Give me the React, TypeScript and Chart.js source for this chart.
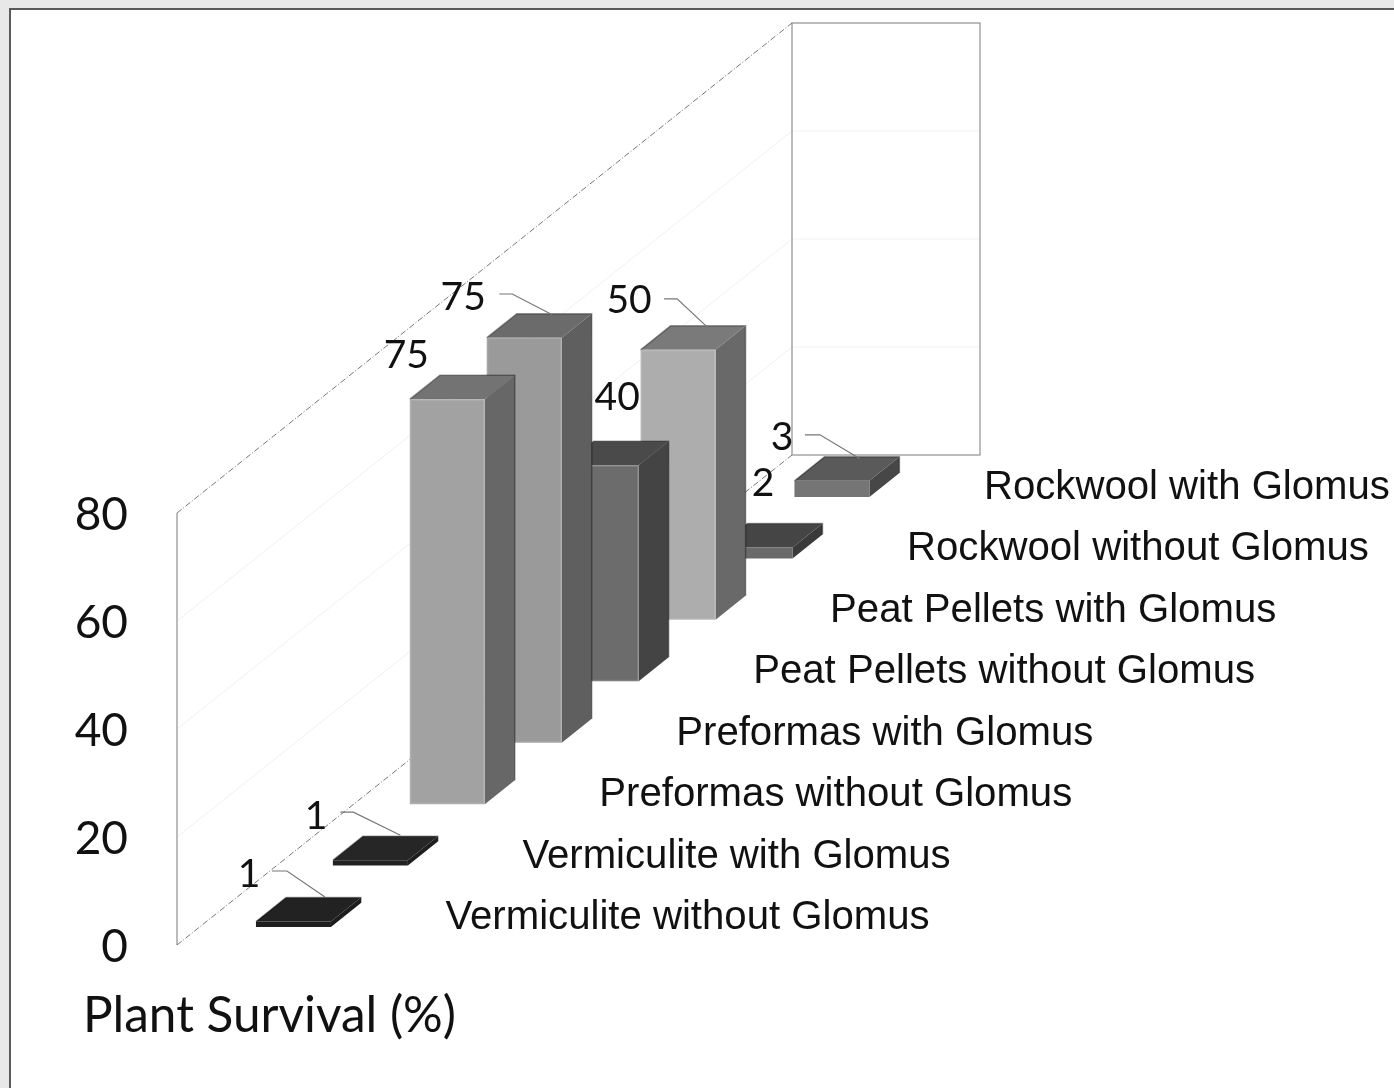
import React, { useEffect, useRef } from "react";
import { Chart, registerables } from "chart.js";

Chart.register(...registerables);

const categories = [
  "Vermiculite without Glomus",
  "Vermiculite with Glomus",
  "Preformas without Glomus",
  "Preformas with Glomus",
  "Peat Pellets without Glomus",
  "Peat Pellets with Glomus",
  "Rockwool without Glomus",
  "Rockwool with Glomus",
];
const survival = [1, 1, 75, 75, 40, 50, 2, 3];
const frontColors = ["#1f1f1f", "#222222", "#a2a2a2", "#9a9a9a", "#6c6c6c", "#adadad", "#6a6a6a", "#757575"];
const topColors = ["#222222", "#262626", "#737373", "#6b6b6b", "#4a4a4a", "#7a7a7a", "#454545", "#5a5a5a"];
const sideColors = ["#1c1c1c", "#1e1e1e", "#676767", "#5f5f5f", "#444444", "#696969", "#3a3a3a", "#474747"];

// Layout of the oblique projection (pixels)
const DEPTH_X = 30;
const DEPTH_Y = -24;
const STEP_Y = 61.43;
const FLOOR_LIFT = 18;
const WALL_LEFT = 177;
const WALL_DX = 615;
const WALL_DY = -490;
const WALL_BACK_W = 188;

// Label placement relative to the bar's front-top centre
const labelOffsets = [
  [-44.5, -47.6], [-54.4, -44.2], [-41, -44], [-61, -40.7],
  [16, -68], [-49, -49], [8, -64.6], [-50, -43.8],
];
const leaderOffsets: (number[][] | null)[] = [
  [[-21.5, -50.6], [-6.5, -50.6], [31.5, -24.6]],
  [[-30, -48], [-17, -48], [30, -25]],
  null,
  [[-25, -43.7], [-12, -43.7], [28, -23]],
  null,
  [[-14, -51], [-1, -51], [29, -23]],
  null,
  [[-27, -46], [-12, -46], [28, -22]],
];

function poly(ctx: CanvasRenderingContext2D, pts: number[][], fill: string) {
  ctx.beginPath();
  pts.forEach((p, i) => (i ? ctx.lineTo(p[0], p[1]) : ctx.moveTo(p[0], p[1])));
  ctx.closePath();
  ctx.fillStyle = fill;
  ctx.fill();
}

const plot3d = {
  id: "plot3d",
  beforeDraw(chart: any) {
    const { ctx, width, height, scales } = chart;
    ctx.save();
    ctx.fillStyle = "#e8e8e8";
    ctx.fillRect(0, 0, width, height);
    ctx.fillStyle = "#ffffff";
    ctx.fillRect(10, 9, width - 10, height - 9);
    ctx.fillStyle = "#5a5a5a";
    ctx.fillRect(9, 8, width - 9, 2);
    ctx.fillRect(9, 8, 2, height - 8);

    const y = scales.y;
    const y0 = y.getPixelForValue(0);
    const yMax = y.getPixelForValue(80);
    // gridlines
    ctx.strokeStyle = "#f1f1f1";
    ctx.lineWidth = 1;
    y.ticks.forEach((t: any) => {
      if (t.value === 0 || t.value === 80) return;
      const p = y.getPixelForValue(t.value);
      ctx.beginPath();
      ctx.moveTo(WALL_LEFT, p);
      ctx.lineTo(WALL_LEFT + WALL_DX, p + WALL_DY);
      ctx.lineTo(WALL_LEFT + WALL_DX + WALL_BACK_W, p + WALL_DY);
      ctx.stroke();
    });
    // back wall
    ctx.strokeStyle = "#8f8f8f";
    ctx.lineWidth = 1.2;
    ctx.strokeRect(WALL_LEFT + WALL_DX, yMax + WALL_DY, WALL_BACK_W, y0 - yMax);
    // left edge
    ctx.beginPath();
    ctx.moveTo(WALL_LEFT, y0);
    ctx.lineTo(WALL_LEFT, yMax);
    ctx.stroke();
    // receding dashed edges
    ctx.strokeStyle = "#777777";
    ctx.lineWidth = 1;
    ctx.setLineDash([6, 2, 1, 2]);
    [y0, yMax].forEach((p) => {
      ctx.beginPath();
      ctx.moveTo(WALL_LEFT, p);
      ctx.lineTo(WALL_LEFT + WALL_DX, p + WALL_DY);
      ctx.stroke();
    });
    ctx.restore();
  },
  beforeDatasetDraw(chart: any, args: any) {
    const { ctx } = chart;
    const els = args.meta.data;
    ctx.save();
    for (let i = els.length - 1; i >= 0; i--) {
      const el = els[i];
      const lift = FLOOR_LIFT + STEP_Y * i;
      const l = el.x - el.width / 2;
      const r = el.x + el.width / 2;
      const t = el.y - lift;
      const b = el.base - lift;
      poly(ctx, [[r, b], [r + DEPTH_X, b + DEPTH_Y], [r + DEPTH_X, t + DEPTH_Y], [r, t]], sideColors[i]);
      poly(ctx, [[l, t], [r, t], [r + DEPTH_X, t + DEPTH_Y], [l + DEPTH_X, t + DEPTH_Y]], topColors[i]);
      poly(ctx, [[l, t], [r, t], [r, b], [l, b]], frontColors[i]);
      // soft highlight on the front edges of tall bars, dark rim behind the top
      ctx.lineWidth = 1.5;
      if (b - t > 20) {
        ctx.strokeStyle = "rgba(255,255,255,0.14)";
        ctx.strokeRect(l + 0.75, t + 0.75, el.width - 1.5, b - t - 1.5);
      }
      ctx.strokeStyle = "rgba(0,0,0,0.35)";
      ctx.beginPath();
      ctx.moveTo(l, t);
      ctx.lineTo(l + DEPTH_X, t + DEPTH_Y);
      ctx.lineTo(r + DEPTH_X, t + DEPTH_Y);
      ctx.lineTo(r + DEPTH_X, b + DEPTH_Y);
      ctx.stroke();
    }
    ctx.restore();
    return false;
  },
  afterDatasetsDraw(chart: any) {
    const { ctx } = chart;
    const els = chart.getDatasetMeta(0).data;
    const values = chart.data.datasets[0].data;
    const labels = chart.data.labels;
    ctx.save();
    ctx.fillStyle = "#111111";
    els.forEach((el: any, i: number) => {
      const lift = FLOOR_LIFT + STEP_Y * i;
      const tx = el.x;
      const ty = el.y - lift;
      const leader = leaderOffsets[i];
      if (leader) {
        ctx.strokeStyle = "#777777";
        ctx.lineWidth = 1.2;
        ctx.beginPath();
        leader.forEach((p, k) => (k ? ctx.lineTo(tx + p[0], ty + p[1]) : ctx.moveTo(tx + p[0], ty + p[1])));
        ctx.stroke();
      }
      ctx.font = "39px 'Lato'";
      ctx.textAlign = "center";
      ctx.textBaseline = "middle";
      ctx.fillText(String(values[i]), tx + labelOffsets[i][0], ty + labelOffsets[i][1]);
      // category label
      ctx.font = "40.15px 'Liberation Sans'";
      ctx.textAlign = "left";
      ctx.fillText(labels[i], el.x + 152, el.base - lift - 9);
    });
    ctx.font = "49.5px 'Lato'";
    ctx.textAlign = "left";
    ctx.fillText("Plant Survival (%)", 83, 1016);
    ctx.restore();
  },
};

export default function App() {
  const ref = useRef<HTMLCanvasElement>(null);
  useEffect(() => {
    const chart = new Chart(ref.current as HTMLCanvasElement, {
      type: "bar",
      data: {
        labels: categories,
        datasets: [
          {
            label: "Plant Survival (%)",
            data: survival,
            backgroundColor: frontColors,
            categoryPercentage: 1,
            barPercentage: 0.975,
          },
        ],
      },
      options: {
        responsive: false,
        animation: false,
        layout: { padding: { left: 0, top: 513, right: 523.6, bottom: 143 } },
        plugins: { legend: { display: false }, tooltip: { enabled: false }, title: { display: false } },
        scales: {
          x: { display: false, grid: { display: false } },
          y: {
            min: 0,
            max: 80,
            afterFit: (s: any) => {
              s.width = 255;
              s.paddingTop = 0;
              s.paddingBottom = 0;
            },
            grid: { display: false, drawTicks: false },
            border: { display: false },
            ticks: {
              stepSize: 20,
              padding: 127,
              labelOffset: 2,
              color: "#111111",
              font: { family: "Lato", size: 46 },
            },
          },
        },
      },
      plugins: [plot3d],
    } as any);
    return () => chart.destroy();
  }, []);
  return (
    <canvas
      ref={ref}
      width={1394}
      height={1088}
      style={{ position: "absolute", left: 0, top: 0, display: "block" }}
    />
  );
}
